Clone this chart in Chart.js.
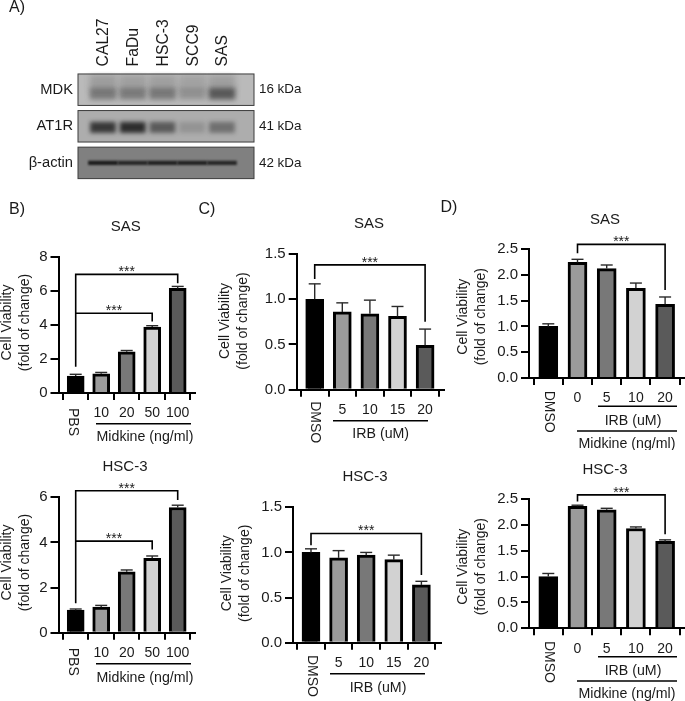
<!DOCTYPE html>
<html>
<head>
<meta charset="utf-8">
<style>
  html, body { margin: 0; padding: 0; background: #fff; }
  body { width: 685px; height: 701px; position: relative; overflow: hidden; }
  canvas { position: absolute; }
</style>
<script src="https://cdn.jsdelivr.net/npm/chart.js@4/dist/chart.umd.js"></script>
</head>
<body>
<canvas id="blot" width="340" height="195" style="left:0;top:0"></canvas>
<canvas id="bSas" width="215" height="255" style="left:0;top:195px"></canvas>
<canvas id="bHsc" width="215" height="251" style="left:0;top:450px"></canvas>
<canvas id="cSas" width="250" height="255" style="left:195px;top:195px"></canvas>
<canvas id="cHsc" width="250" height="251" style="left:195px;top:450px"></canvas>
<canvas id="dSas" width="245" height="255" style="left:440px;top:195px"></canvas>
<canvas id="dHsc" width="245" height="251" style="left:440px;top:450px"></canvas>
<script>
// blot
const lanes = ['CAL27', 'FaDu', 'HSC-3', 'SCC9', 'SAS'];
const blotRows = ['MDK', 'AT1R', 'β-actin'];
const blotWeights = ['16 kDa', '41 kDa', '42 kDa'];
const mdkUpper = [0.2, 0.19, 0.19, 0.16, 0.19];
const mdkLower = [0.44, 0.42, 0.44, 0.26, 0.66];
const at1rBand = [0.76, 0.84, 0.54, 0.16, 0.4];
const actinBand = [0.85, 0.75, 0.8, 0.8, 0.75];

// bar charts
const midkineDoses = ['PBS', '10', '20', '50', '100'];
const irbDoses = ['DMSO', '5', '10', '15', '20'];
const comboDoses = ['DMSO', '0', '5', '10', '20'];

const sasMidkine = [1.0, 1.13, 2.42, 3.88, 6.15];
const sasMidkineErr = [0.1, 0.08, 0.08, 0.08, 0.12];
const hscMidkine = [1.0, 1.13, 2.7, 3.3, 5.55];
const hscMidkineErr = [0.05, 0.08, 0.08, 0.1, 0.1];

const sasIrb = [1.0, 0.86, 0.84, 0.81, 0.49];
const sasIrbErr = [0.17, 0.1, 0.15, 0.11, 0.18];
const hscIrb = [1.0, 0.94, 0.97, 0.92, 0.64];
const hscIrbErr = [0.04, 0.08, 0.03, 0.05, 0.04];

const sasCombo = [1.0, 2.24, 2.12, 1.74, 1.43];
const sasComboErr = [0.05, 0.06, 0.07, 0.1, 0.14];
const hscCombo = [1.0, 2.36, 2.29, 1.93, 1.68];
const hscComboErr = [0.06, 0.02, 0.03, 0.03, 0.03];

const barFills = ['#000000', '#9b9b9b', '#787878', '#d2d2d2', '#5a5a5a'];

const FONT = '"Liberation Sans", Arial, sans-serif';
Chart.defaults.font.family = FONT;
Chart.defaults.color = '#1a1a1a';
Chart.defaults.animation = false;
Chart.defaults.responsive = false;

function text(ctx, str, x, y, size, rotate = 0, align = 'center') {
    ctx.save();
    ctx.translate(x, y);
    ctx.rotate(rotate);
    ctx.font = `${size}px ${FONT}`;
    ctx.fillStyle = '#1a1a1a';
    ctx.textAlign = align;
    ctx.textBaseline = 'middle';
    ctx.fillText(str, 0, 0);
    ctx.restore();
}

function hline(ctx, x0, x1, y) {
    ctx.beginPath();
    ctx.moveTo(x0, y);
    ctx.lineTo(x1, y);
    ctx.stroke();
}

// p holds the page geometry of a panel, values come from the arrays above
function barPanel(id, p) {
    const plugin = {
        id: 'decor',
        afterDraw(chart) {
            const ctx = chart.ctx;
            const x = chart.scales.x;
            const y = chart.scales.y;
            ctx.save();

            // error bars, upper side only
            ctx.strokeStyle = '#2a2a2a';
            ctx.lineWidth = 1.4;
            p.values.forEach((v, i) => {
                let px = x.getPixelForValue(i);
                let top = y.getPixelForValue(v + p.errors[i]);
                ctx.beginPath();
                ctx.moveTo(px, y.getPixelForValue(v));
                ctx.lineTo(px, top);
                ctx.stroke();
                hline(ctx, px - 6, px + 6, top);
            });

            // significance brackets
            ctx.strokeStyle = '#000';
            ctx.lineWidth = 1.6;
            for (let b of p.brackets) {
                let x0 = x.getPixelForValue(b.from);
                let x1 = x.getPixelForValue(b.to);
                let top = y.getPixelForValue(b.top);
                ctx.beginPath();
                ctx.moveTo(x0, y.getPixelForValue(b.leftEnd));
                ctx.lineTo(x0, top);
                ctx.lineTo(x1, top);
                ctx.lineTo(x1, y.getPixelForValue(b.rightEnd));
                ctx.stroke();
                ctx.font = `14px ${FONT}`;
                ctx.fillStyle = '#1a1a1a';
                ctx.textAlign = 'center';
                ctx.textBaseline = 'alphabetic';
                ctx.fillText('***', (x0 + x1) / 2, top + 2);
            }

            // everything below is placed in page coordinates
            ctx.translate(-p.left, -p.top);
            text(ctx, p.title, p.titleX, p.titleY + 1, 15);
            if (p.letter) text(ctx, p.letter, p.letterX, p.letterY, 16);
            text(ctx, 'Cell Viability', p.yTitleX, p.yTitleY, 14, -Math.PI / 2);
            text(ctx, '(fold of change)', p.yTitleX + 18, p.yTitleY, 14, -Math.PI / 2);
            text(ctx, p.labels[0], p.firstX, p.y0 + p.firstDrop, 14, Math.PI / 2, 'left');

            ctx.strokeStyle = '#000';
            ctx.lineWidth = 1.6;
            for (let g of p.groups) {
                hline(ctx, g.x0, g.x1, p.y0 + g.lineDrop);
                text(ctx, g.label, g.textX, p.y0 + g.textDrop + 1, 14.2);
            }
            ctx.restore();
        }
    };

    new Chart(document.getElementById(id), {
        type: 'bar',
        data: {
            datasets: [{
                data: p.values.map((v, i) => ({ x: i, y: v })),
                backgroundColor: barFills,
                borderColor: '#000',
                borderWidth: 3,
                borderSkipped: 'bottom',
                barThickness: p.barWidth
            }]
        },
        options: {
            layout: { padding: { top: p.yTop - p.top, right: p.left + p.width - p.xEnd, left: 0, bottom: 0 } },
            plugins: { legend: { display: false }, tooltip: { enabled: false } },
            scales: {
                x: {
                    type: 'linear',
                    offset: false,
                    min: (p.axisX - p.center0) / p.spacing,
                    max: (p.xEnd - p.center0) / p.spacing,
                    afterBuildTicks: s => { s.ticks = p.labels.map((_, i) => ({ value: i })); },
                    afterFit: s => { s.height = p.top + p.height - p.y0; },
                    border: { color: '#000', width: 2 },
                    grid: { drawOnChartArea: false, color: '#000', lineWidth: 2, tickLength: 7 },
                    ticks: {
                        autoSkip: false,
                        maxRotation: 0,
                        padding: 5,
                        font: { size: 14 },
                        callback: (v, i) => i === 0 ? '' : p.labels[i]
                    }
                },
                y: {
                    min: 0,
                    max: p.yMax,
                    afterFit: s => { s.width = p.axisX - p.left; },
                    border: { color: '#000', width: 2 },
                    grid: { drawOnChartArea: false, color: '#000', lineWidth: 2, tickLength: 8 },
                    ticks: {
                        stepSize: p.yStep,
                        padding: 3,
                        font: { size: 15 },
                        callback: v => p.yStep < 1 ? v.toFixed(1) : String(v)
                    }
                }
            }
        },
        plugins: [plugin]
    });
}

const bShared = {
    labels: midkineDoses, left: 0, width: 215, axisX: 58.5, center0: 75.7, spacing: 25.5, xEnd: 195,
    barWidth: 17, firstX: 72.7, firstDrop: 15, yTitleX: 7
};
barPanel('bSas', {
    ...bShared, top: 195, height: 255, y0: 393, yTop: 257, yMax: 8, yStep: 2,
    values: sasMidkine, errors: sasMidkineErr, title: 'SAS', titleX: 125.7, titleY: 226,
    letter: 'B)', letterX: 17, letterY: 210, yTitleY: 322.5,
    brackets: [
        { from: 0, to: 4, top: 6.98, leftEnd: 1.55, rightEnd: 6.45 },
        { from: 0, to: 3, top: 4.69, leftEnd: 4.69, rightEnd: 4.2 }
    ],
    groups: [{ x0: 96, x1: 191, lineDrop: 30.7, label: 'Midkine (ng/ml)', textX: 145, textDrop: 42.7 }]
});
barPanel('bHsc', {
    ...bShared, top: 450, height: 251, y0: 632.7, yTop: 497.3, yMax: 6, yStep: 2,
    values: hscMidkine, errors: hscMidkineErr, title: 'HSC-3', titleX: 125, titleY: 465.7,
    yTitleY: 562.5,
    brackets: [
        { from: 0, to: 4, top: 6.29, leftEnd: 1.3, rightEnd: 5.88 },
        { from: 0, to: 3, top: 4.06, leftEnd: 4.06, rightEnd: 3.69 }
    ],
    groups: [{ x0: 96, x1: 191, lineDrop: 31, label: 'Midkine (ng/ml)', textX: 145, textDrop: 44 }]
});

barPanel('cSas', {
    labels: irbDoses, left: 195, width: 250, top: 195, height: 255, axisX: 296.7, center0: 314.7, spacing: 27.6,
    xEnd: 445, barWidth: 18, y0: 389.7, yTop: 254, yMax: 1.5, yStep: 0.5,
    values: sasIrb, errors: sasIrbErr, title: 'SAS', titleX: 369, titleY: 222.7,
    letter: 'C)', letterX: 207, letterY: 210, yTitleX: 225, yTitleY: 321, firstX: 315, firstDrop: 11.5,
    brackets: [{ from: 0, to: 4, top: 1.38, leftEnd: 1.225, rightEnd: 0.75 }],
    groups: [{ x0: 333, x1: 428, lineDrop: 31, label: 'IRB (uM)', textX: 380.7, textDrop: 43.6 }]
});
barPanel('cHsc', {
    labels: irbDoses, left: 195, width: 250, top: 450, height: 251, axisX: 293, center0: 311, spacing: 27.6,
    xEnd: 441, barWidth: 18, y0: 642.7, yTop: 507.3, yMax: 1.5, yStep: 0.5,
    values: hscIrb, errors: hscIrbErr, title: 'HSC-3', titleX: 365, titleY: 476,
    yTitleX: 227.3, yTitleY: 573.3, firstX: 311.7, firstDrop: 12.3,
    brackets: [{ from: 0, to: 4, top: 1.21, leftEnd: 1.08, rightEnd: 0.75 }],
    groups: [{ x0: 330, x1: 425, lineDrop: 31, label: 'IRB (uM)', textX: 378, textDrop: 44 }]
});

barPanel('dSas', {
    labels: comboDoses, left: 440, width: 245, top: 195, height: 255, axisX: 529, center0: 548.3, spacing: 29.2,
    xEnd: 685, barWidth: 19, y0: 378, yTop: 249, yMax: 2.5, yStep: 0.5,
    values: sasCombo, errors: sasComboErr, title: 'SAS', titleX: 605, titleY: 219,
    letter: 'D)', letterX: 449, letterY: 208, yTitleX: 463, yTitleY: 316.7, firstX: 549, firstDrop: 12.7,
    brackets: [{ from: 1, to: 4, top: 2.59, leftEnd: 2.42, rightEnd: 1.705 }],
    groups: [
        { x0: 598, x1: 677, lineDrop: 28.3, label: 'IRB (uM)', textX: 633, textDrop: 42 },
        { x0: 577, x1: 677, lineDrop: 53, label: 'Midkine (ng/ml)', textX: 627, textDrop: 64.7 }
    ]
});
barPanel('dHsc', {
    labels: comboDoses, left: 440, width: 245, top: 450, height: 251, axisX: 529, center0: 548.3, spacing: 29.2,
    xEnd: 685, barWidth: 19, y0: 628.3, yTop: 499, yMax: 2.5, yStep: 0.5,
    values: hscCombo, errors: hscComboErr, title: 'HSC-3', titleX: 605, titleY: 469.3,
    yTitleX: 463, yTitleY: 566.7, firstX: 549, firstDrop: 12.7,
    brackets: [{ from: 1, to: 4, top: 2.58, leftEnd: 2.45, rightEnd: 1.82 }],
    groups: [
        { x0: 598, x1: 677, lineDrop: 28.4, label: 'IRB (uM)', textX: 633, textDrop: 41.7 },
        { x0: 577, x1: 677, lineDrop: 52.7, label: 'Midkine (ng/ml)', textX: 627, textDrop: 64.4 }
    ]
});

// western blot: rows on the y scale, lanes on the x scale, bands as blurred floating bars
function bandSet(levels, row, offset, halfHeight, thickness, blur, shade) {
    return {
        data: levels.map((_, i) => ({ x: i, y: [row + offset - halfHeight, row + offset + halfHeight] })),
        backgroundColor: levels.map(a => `rgba(${shade},${shade},${shade},${a})`),
        barThickness: thickness,
        grouped: false,
        blur: blur
    };
}

const rowFills = ['#bababa', '#adadad', '#808080'];

new Chart(document.getElementById('blot'), {
    type: 'bar',
    data: {
        datasets: [
            bandSet(mdkUpper, 0, -0.2, 0.2, 26, 3, 40),
            bandSet(mdkLower, 0, 0.11, 0.15, 26, 2.5, 40),
            bandSet(at1rBand, 1, 0.03, 0.14, 25, 2.2, 20),
            bandSet(actinBand, 2, 0, 0.05, 29, 1, 10)
        ]
    },
    options: {
        layout: { padding: { top: 0, right: 0, left: 0, bottom: 9 } },
        plugins: { legend: { display: false }, tooltip: { enabled: false } },
        scales: {
            x: {
                type: 'linear',
                position: 'top',
                offset: false,
                min: -0.84,
                max: 5.076,
                afterBuildTicks: s => { s.ticks = lanes.map((_, i) => ({ value: i })); },
                afterFit: s => { s.height = 71.4; },
                border: { display: false },
                grid: { display: false, drawTicks: false },
                ticks: {
                    autoSkip: false,
                    minRotation: 90,
                    maxRotation: 90,
                    padding: 5,
                    labelOffset: 20,
                    font: { size: 15.7 },
                    callback: (v, i) => lanes[i]
                }
            },
            y: {
                reverse: true,
                min: -0.5,
                max: 2.5,
                afterBuildTicks: s => { s.ticks = blotRows.map((_, i) => ({ value: i })); },
                afterFit: s => { s.width = 78; },
                border: { display: false },
                grid: { display: false, drawTicks: false },
                ticks: { padding: 5, font: { size: 14.7 }, callback: (v, i) => blotRows[i] }
            },
            kda: {
                position: 'right',
                reverse: true,
                min: -0.5,
                max: 2.5,
                afterBuildTicks: s => { s.ticks = blotWeights.map((_, i) => ({ value: i })); },
                afterFit: s => { s.width = 86; },
                border: { display: false },
                grid: { display: false, drawTicks: false },
                ticks: { padding: 5, font: { size: 13.4 }, callback: (v, i) => blotWeights[i] }
            }
        }
    },
    plugins: [{
        id: 'blotRows',
        beforeDatasetsDraw(chart) {
            const ctx = chart.ctx;
            const { left, right } = chart.chartArea;
            const y = chart.scales.y;
            ctx.save();
            ctx.strokeStyle = '#3c3c3c';
            ctx.lineWidth = 1;
            rowFills.forEach((fill, r) => {
                let top = y.getPixelForValue(r - 0.43);
                let bottom = y.getPixelForValue(r + 0.43);
                ctx.fillStyle = fill;
                ctx.fillRect(left, top, right - left, bottom - top);
                ctx.strokeRect(left, top, right - left, bottom - top);
            });
            ctx.restore();
        },
        beforeDatasetDraw(chart, args) {
            chart.ctx.save();
            chart.ctx.filter = `blur(${chart.data.datasets[args.index].blur}px)`;
        },
        afterDatasetDraw(chart) {
            chart.ctx.restore();
        },
        afterDraw(chart) {
            text(chart.ctx, 'A)', 17, 8, 16);
        }
    }]
});
</script>
</body>
</html>
